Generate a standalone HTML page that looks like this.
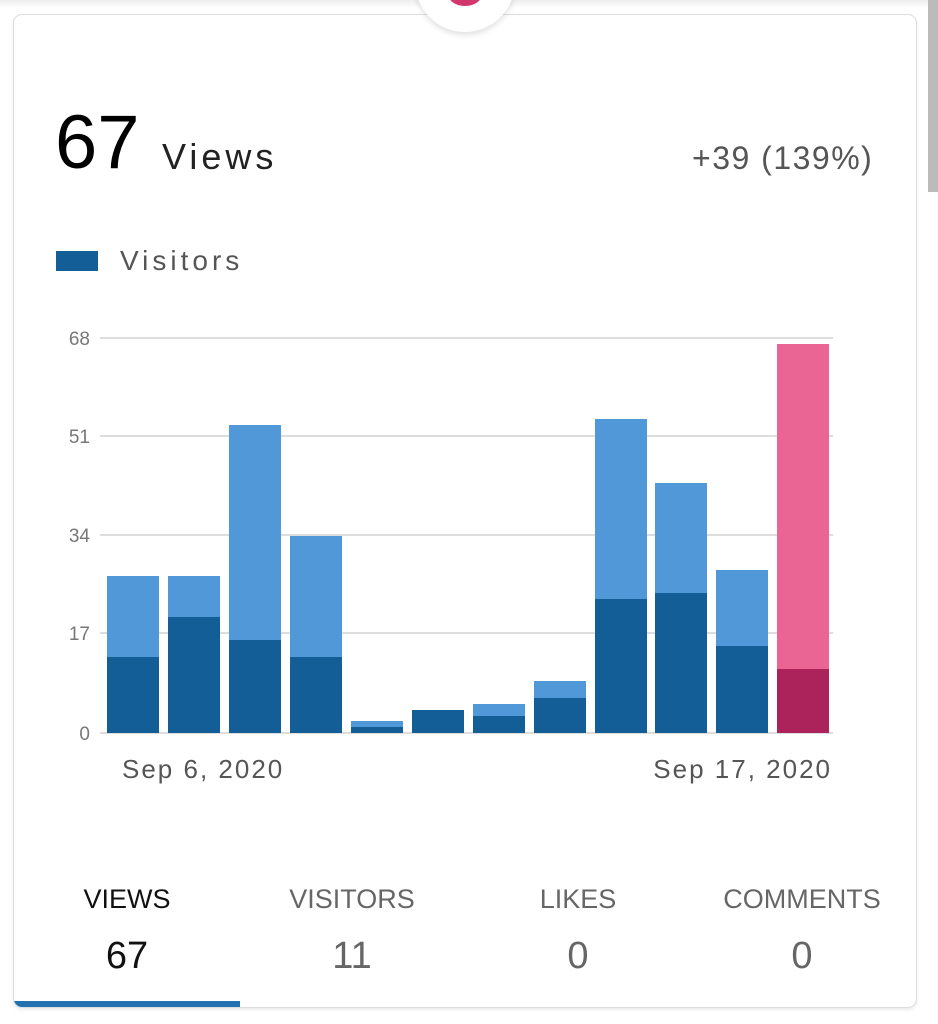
<!DOCTYPE html>
<html><head><meta charset="utf-8"><style>
body{margin:0;width:938px;height:1024px;background:#fff;position:relative;overflow:hidden;font-family:"Liberation Sans",sans-serif}
.card{position:absolute;left:13px;top:14px;width:902px;height:992px;border:1.5px solid #ddd;border-radius:9px;box-shadow:0 2px 3px rgba(0,0,0,.08);overflow:hidden}
.t{position:absolute;white-space:nowrap}
</style></head><body>
<div style="position:absolute;left:0;top:0;width:938px;height:8px;background:linear-gradient(#eee,#fff)"></div>
<div style="position:absolute;left:928px;top:0;width:10px;height:192px;background:#bbb"></div>
<div class="card">
<div style="position:absolute;left:0;top:986px;width:226px;height:6px;background:#2271b1"></div>
</div>
<div style="position:absolute;left:415px;top:-68px;width:100px;height:100px;border-radius:50%;background:#fff;box-shadow:0 3px 6px rgba(0,0,0,.12)"></div>
<div style="position:absolute;left:448px;top:-18px;width:34px;height:24px;border-radius:50%;background:#d1376c"></div>
<div class="t" style="left:55px;top:100px;font-size:76px;color:#000;line-height:86px">67</div>
<div class="t" style="left:162px;top:136px;font-size:36px;color:#222;letter-spacing:4px">Views</div>
<div class="t" style="left:692px;top:140px;font-size:32px;color:#555;letter-spacing:1.5px">+39 (139%)</div>
<div style="position:absolute;left:56px;top:251px;width:42px;height:20px;background:#135e96"></div>
<div class="t" style="left:120px;top:245px;font-size:28px;color:#555;letter-spacing:4px">Visitors</div>
<svg style="position:absolute;left:0;top:0" width="938" height="1024">
<g stroke="#ddd" stroke-width="2">
<line x1="100" y1="338" x2="833" y2="338"/><line x1="100" y1="436" x2="833" y2="436"/>
<line x1="100" y1="535" x2="833" y2="535"/><line x1="100" y1="633" x2="833" y2="633"/>
<line x1="100" y1="733" x2="833" y2="733"/></g>
<g font-family="Liberation Sans" font-size="19" fill="#777" text-anchor="end">
<text x="90" y="345">68</text><text x="90" y="443">51</text><text x="90" y="542">34</text><text x="90" y="640">17</text><text x="90" y="740">0</text></g>
<g fill="#5198d9">
<rect x="107" y="576" width="52" height="157"/><rect x="168" y="576" width="52" height="157"/>
<rect x="229" y="425" width="52" height="308"/><rect x="290" y="536" width="52" height="197"/>
<rect x="351" y="721" width="52" height="12"/><rect x="412" y="710" width="52" height="23"/>
<rect x="473" y="704" width="52" height="29"/><rect x="534" y="681" width="52" height="52"/>
<rect x="595" y="419" width="52" height="314"/><rect x="655" y="483" width="52" height="250"/>
<rect x="716" y="570" width="52" height="163"/></g>
<g fill="#135e96">
<rect x="107" y="657" width="52" height="76"/><rect x="168" y="617" width="52" height="116"/>
<rect x="229" y="640" width="52" height="93"/><rect x="290" y="657" width="52" height="76"/>
<rect x="351" y="727" width="52" height="6"/><rect x="412" y="710" width="52" height="23"/>
<rect x="473" y="716" width="52" height="17"/><rect x="534" y="698" width="52" height="35"/>
<rect x="595" y="599" width="52" height="134"/><rect x="655" y="593" width="52" height="140"/>
<rect x="716" y="646" width="52" height="87"/></g>
<rect x="777" y="344" width="52" height="389" fill="#ea6593"/>
<rect x="777" y="669" width="52" height="64" fill="#ab235a"/>
<g font-family="Liberation Sans" font-size="26" fill="#555" letter-spacing="2">
<text x="122" y="778">Sep 6, 2020</text><text x="832" y="778" text-anchor="end">Sep 17, 2020</text></g>
<g font-family="Liberation Sans" font-size="27" text-anchor="middle" fill="#666">
<text x="127" y="908" fill="#111">VIEWS</text><text x="352" y="908">VISITORS</text>
<text x="578" y="908">LIKES</text><text x="802" y="908">COMMENTS</text></g>
<g font-family="Liberation Sans" font-size="38" text-anchor="middle" fill="#666">
<text x="127" y="968" fill="#111">67</text><text x="352" y="968">11</text>
<text x="578" y="968">0</text><text x="802" y="968">0</text></g>
</svg>
</body></html>
